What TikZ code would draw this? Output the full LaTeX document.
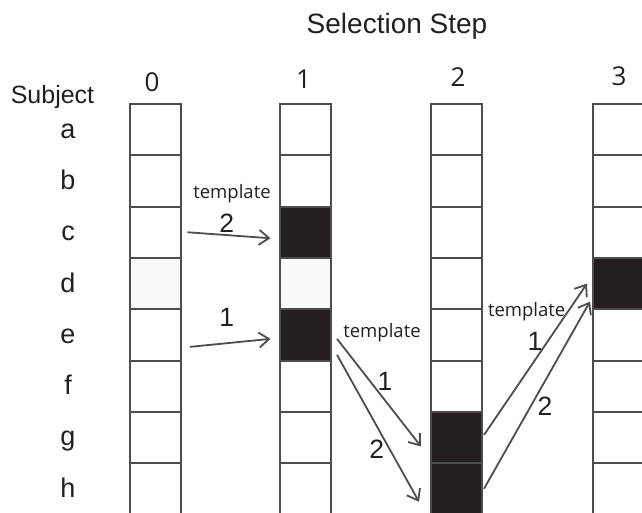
\documentclass[tikz,border=0pt]{standalone}
\usepackage{fontspec}
\setmainfont{Liberation Sans}
\newfontfamily\steplabelfont{Open Sans}
\usetikzlibrary{arrows.meta}

\definecolor{ink}{HTML}{231F20}
\definecolor{rule}{HTML}{4D4D4D}
\definecolor{pale}{HTML}{F9F9F9}

\begin{document}
\begin{tikzpicture}[x=1pt,y=-1pt,
  cell/.style={draw=rule,line width=2pt,minimum width=51pt,minimum height=51.3pt,
               inner sep=0pt,fill=white},
  % cells picked at each step, and the pale row d
  s1c/.style={fill=ink}, s1e/.style={fill=ink},
  s2g/.style={fill=ink}, s2h/.style={fill=ink},
  s3d/.style={fill=ink},
  s0d/.style={fill=pale}, s1d/.style={fill=pale},
  link/.style={draw=rule,line width=1.8pt,
               -{Straight Barb[length=10pt,width=15pt]}},
  title/.style={text=ink,inner sep=0pt,anchor=base,font=\fontsize{28}{30}\selectfont},
  steplab/.style={text=ink,inner sep=0pt,anchor=base,font=\steplabelfont\fontsize{26}{28}\selectfont},
  rowlab/.style={text=ink,inner sep=0pt,anchor=base,font=\fontsize{27}{29}\selectfont},
  tmpl/.style={text=ink,inner sep=0pt,anchor=base,font=\steplabelfont\fontsize{18.5}{20}\selectfont},
  num/.style={text=ink,inner sep=0pt,anchor=base,font=\fontsize{26.5}{28}\selectfont},
]
\useasboundingbox (0,0) rectangle (642,512);

% the four columns of subject cells
\foreach \col/\x in {0/155,1/305,2/456.5,3/618.5}
  \foreach \r [count=\i from 0] in {a,b,c,d,e,f,g,h}
    \node[cell,s\col\r/.try] (c\col\r) at (\x,{129.65+51.3*\i}) {};

% headings
\node[title] (heading) at (397,33) {Selection Step};
\node[steplab] (step0) at (152,91) {0};
\node[steplab] (step1) at (303.5,88) {1};
\node[steplab] (step2) at (458,86) {2};
\node[steplab] (step3) at (619,85) {3};
\node[title,font=\fontsize{25}{27}\selectfont] (subject) at (52.5,103) {Subject};

% subject letters
\foreach \r [count=\i from 0] in {a,b,c,d,e,f,g,h}
  \node[rowlab] (lab\r) at (68,{129.65+51.3*\i+8.5}) {\r};

% step 0 -> step 1
\draw[link] ([xshift=6pt]c0c.east) -- ([xshift=-8pt,yshift=-6pt]c1c.west);
\draw[link] ([xshift=8.5pt,yshift=-12pt]c0e.east) -- ([xshift=-8pt,yshift=-4pt]c1e.west);
\node[tmpl] (t01) at (232,198) {template};
\node[num] (n01b) at (226.7,232) {2};
\node[num] (n01a) at (226.7,326) {1};

% step 1 -> step 2
\draw[link] ([xshift=5.5pt,yshift=-4pt]c1e.east) -- ([xshift=-9pt,yshift=-9pt]c2g.west);
\draw[link] ([xshift=5.5pt,yshift=-20pt]c1e.east) -- ([xshift=-11pt,yshift=-13pt]c2h.west);
\node[tmpl] (t12) at (382,337) {template};
\node[num] (n12a) at (385,390) {1};
\node[num] (n12b) at (376.7,458) {2};

% step 2 -> step 3
\draw[link] ([xshift=1pt,yshift=2.5pt]c2g.east) -- ([xshift=-5pt]c3d.west);
\draw[link] ([xshift=1pt]c2h.east) -- ([xshift=-2pt,yshift=-18pt]c3d.west);
\node[tmpl] (t23) at (526.7,316) {template};
\node[num] (n23a) at (535,350) {1};
\node[num] (n23b) at (545,415) {2};
\end{tikzpicture}
\end{document}
